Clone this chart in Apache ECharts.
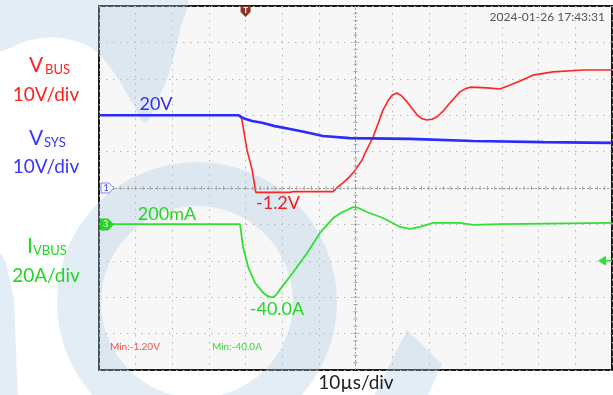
<!DOCTYPE html>
<html>
<head>
<meta charset="utf-8">
<script src="https://cdn.jsdelivr.net/npm/echarts/dist/echarts.min.js"></script>
<style>
  html, body { margin: 0; padding: 0; background: #ffffff; }
  #chart { width: 613px; height: 395px; }
</style>
</head>
<body>
<div id="chart"></div>
<script>
// time in microseconds (10 µs/div, 14 divisions), VBUS/VSYS in volts, IVBUS in amps
const vbus = [
  [0, 20], [38.5, 20], [39.0, 18.7], [40.4, 10.4], [41.8, 4.9], [42.8, -1.2],
  [52, -1.2], [53, -1.0], [63.9, -1.0], [65.2, 0.3], [66.6, 1.4], [68.3, 3.0], [69.9, 4.9], [71.8, 7.7],
  [72.6, 9.6], [74.8, 14.0], [76.2, 17.8], [77.5, 21.4], [79.0, 24.2], [80.0, 25.5], [81.3, 26.1],
  [82.6, 25.3], [84.1, 23.6], [85.5, 21.8], [86.8, 20.1], [88.2, 19.0], [89.5, 18.7], [90.9, 18.9],
  [92.2, 19.5], [94.0, 21.2], [95.8, 23.4], [98.5, 26.4], [100.0, 27.3],
  [101.3, 27.7], [105.9, 27.5], [109.4, 27.2], [112.2, 28.3], [114.9, 29.4],
  [118.4, 31.0], [123.9, 31.9], [132.1, 32.4], [140, 32.4]
];
const vsys = [
  [0, 20], [37.9, 20], [39.8, 19.0], [41.8, 18.4], [44.5, 17.9], [48.0, 17.0],
  [52.1, 16.2], [56.2, 15.4], [61.1, 14.3], [68.5, 13.7], [84.9, 13.5],
  [102.1, 12.9], [121.2, 12.6], [140, 12.4]
];
const ivbus = [
  [0, 0.2], [38.5, 0.2], [39.3, -12.4], [40.7, -23.3], [42.6, -32.2], [44.8, -37.6],
  [45.8, -39.1], [46.7, -39.8], [47.5, -40.0], [48.4, -38.6], [49.3, -36.0], [52.9, -26.6],
  [56.8, -15.7], [60.3, -4.7], [63.9, 3.5], [66.0, 6.3], [67.7, 7.9], [69.0, 9.2], [69.9, 9.6],
  [71.3, 8.6], [73.1, 6.8], [77.5, 3.5], [80.0, 0.9], [82.2, -1.4], [84.9, -2.5], [87.6, -1.4],
  [91.2, 0.8], [98.5, 0.8], [102.1, -0.3], [109.4, 0.2], [140, 0.8]
];
const triggerTime = 40;      // µs
const triggerLevel = -20;    // A
const labelsLeft = ['V', 'BUS', '10V/div', 'V', 'SYS', '10V/div', 'I', 'VBUS', '20A/div'];
const annotations = ['20V', '-1.2V', '200mA', '-40.0A', 'Min:-1.20V', 'Min:-40.0A'];
const timestamp = '2024-01-26 17:43:31';
const timeScale = '10µs/div';

const FONT = 'Lato, "Open Sans", sans-serif';
const RED = '#ff2424', BLUE = '#2b2bff', GREEN = '#30e030';

const chart = echarts.init(document.getElementById('chart'), null, { renderer: 'canvas' });

const dotted = { show: true, lineStyle: { color: '#b4b4b4', width: 1, type: [1.5, 5.5] } };

chart.setOption({
  animation: false,
  backgroundColor: '#ffffff',
  grid: {
    left: 99, top: 6, right: 1, bottom: 25,
    show: true, backgroundColor: '#f7f7f7', borderColor: '#1c1c1c', borderWidth: 2
  },
  xAxis: {
    type: 'value', min: 0, max: 140, interval: 10,
    axisLine: { show: false }, axisTick: { show: false }, axisLabel: { show: false },
    splitLine: dotted
  },
  yAxis: [
    { type: 'value', min: -50, max: 50, interval: 10,
      axisLine: { show: false }, axisTick: { show: false }, axisLabel: { show: false },
      splitLine: dotted },
    { type: 'value', min: -80, max: 120, interval: 20, show: false, splitLine: { show: false } }
  ],
  series: [
    { type: 'line', data: [], z: 1, silent: true,
      markLine: { silent: true, symbol: 'none', label: { show: false },
        lineStyle: { color: '#9a9a9a', width: 1, type: [2, 2] },
        data: [{ xAxis: 70 }, { yAxis: 0 }] } },
    { name: 'VBUS', type: 'line', data: vbus, showSymbol: false, z: 3,
      lineStyle: { color: RED, width: 1.6 }, itemStyle: { color: RED } },
    { name: 'VSYS', type: 'line', data: vsys, showSymbol: false, z: 4,
      lineStyle: { color: BLUE, width: 2.6 }, itemStyle: { color: BLUE } },
    { name: 'IVBUS', type: 'line', yAxisIndex: 1, data: ivbus, showSymbol: false, z: 3,
      lineStyle: { color: GREEN, width: 1.8 }, itemStyle: { color: GREEN } }
  ]
});

const px = (t, v, yi) => chart.convertToPixel({ xAxisIndex: 0, yAxisIndex: yi }, [t, v]);
const xT = px(triggerTime, 0, 0)[0];
const xC = px(70, 0, 0)[0];
const y1 = px(0, 0, 0)[1];
const y3 = px(0, 0, 1)[1];
const yL = px(0, triggerLevel, 1)[1];
const x0 = px(0, 0, 0)[0], x1 = px(140, 0, 0)[0];
const yTop = px(0, 50, 0)[1], yBot = px(0, -50, 0)[1];

const WM = 'rgba(165,198,228,0.32)';
const txt = (s, x, y, size, color, align) => ({
  type: 'text', z: 20, x: x, y: y,
  style: { text: s, fill: color, font: size + 'px ' + FONT, align: align || 'center', verticalAlign: 'middle' }
});

const g = [
  // watermark
  { type: 'ring', z: 1, silent: true, shape: { cx: 197, cy: 302, r: 140, r0: 96 }, style: { fill: WM } },
  { type: 'polygon', z: 1, silent: true,
    shape: { smooth: 0.35, points: [[-5, -5], [185, -5], [180, 30], [170, 70], [158, 100], [145, 123],
      [133, 104], [120, 82], [106, 62], [88, 46], [60, 38], [30, 40], [-5, 50]] },
    style: { fill: WM } },
  { type: 'polygon', z: 1, silent: true,
    shape: { points: [[-5, 244], [6, 262], [14, 300], [18, 400], [-5, 400]] }, style: { fill: WM } },
  { type: 'polygon', z: 1, silent: true,
    shape: { points: [[407, 330], [442, 364], [426, 400], [372, 400]] }, style: { fill: WM } }
];
// small ticks along the centre cross (5 per division)
const stepX = (x1 - x0) / 70, stepY = (yBot - yTop) / 50;
for (let i = 1; i < 70; i++) {
  const x = x0 + i * stepX;
  g.push({ type: 'line', z: 2, silent: true, shape: { x1: x, y1: y1 - 2, x2: x, y2: y1 + 2 },
    style: { stroke: '#a8a8a8', lineWidth: 1 } });
}
for (let i = 1; i < 50; i++) {
  const y = yTop + i * stepY;
  g.push({ type: 'line', z: 2, silent: true, shape: { x1: xC - 2, y1: y, x2: xC + 2, y2: y },
    style: { stroke: '#a8a8a8', lineWidth: 1 } });
}
g.push(
  // trigger marker
  { type: 'polygon', z: 20, shape: { points: [[xT - 5, 6], [xT + 5, 6], [xT + 5, 12], [xT, 17], [xT - 5, 12]] },
    style: { fill: '#8b3526' } },
  { type: 'text', z: 21, x: xT, y: 10.5,
    style: { text: 'T', fill: '#ffffff', font: 'bold 8px ' + FONT, align: 'center', verticalAlign: 'middle' } },
  // channel 1 marker
  { type: 'polygon', z: 20, shape: { points: [[101, y1 - 5], [109, y1 - 5], [114, y1], [109, y1 + 5], [101, y1 + 5]] },
    style: { fill: '#f2f2ff', stroke: '#8888ff', lineWidth: 1 } },
  txt('1', 106, y1, 9, '#4a4ae0'),
  // channel 3 marker
  { type: 'polygon', z: 20, shape: { points: [[100, y3 - 6], [108, y3 - 6], [114, y3], [108, y3 + 6], [100, y3 + 6]] },
    style: { fill: '#22d622' } },
  txt('3', 105.5, y3, 9, '#ffffff'),
  // trigger level arrow
  { type: 'polygon', z: 20, shape: { points: [[598, yL], [606, yL - 5], [606, yL + 5]] }, style: { fill: GREEN } },
  { type: 'line', z: 20, shape: { x1: 604, y1: yL, x2: 612, y2: yL }, style: { stroke: GREEN, lineWidth: 1.5 } },
  // left labels
  txt(labelsLeft[0], 36, 65, 21, '#ff1f1f'),
  txt(labelsLeft[1], 45, 70, 13, '#ff1f1f', 'left'),
  txt(labelsLeft[2], 46, 95, 19, '#ff1f1f'),
  txt(labelsLeft[3], 36, 138, 21, '#3636ff'),
  txt(labelsLeft[4], 44, 143, 13, '#3636ff', 'left'),
  txt(labelsLeft[5], 46, 167, 19, '#3636ff'),
  txt(labelsLeft[6], 30, 246, 21, '#24d624'),
  txt(labelsLeft[7], 33, 251, 13, '#24d624', 'left'),
  txt(labelsLeft[8], 46, 276, 19, '#24d624'),
  // trace annotations
  txt(annotations[0], 156, 104, 18, '#3030ee'),
  txt(annotations[1], 278, 203, 18, '#ee2020'),
  txt(annotations[2], 167, 214, 18, '#24d624'),
  txt(annotations[3], 277, 309, 18, '#24d624'),
  txt(annotations[4], 110, 347, 10, '#ff4a4a', 'left'),
  txt(annotations[5], 212, 347, 10, '#3ad83a', 'left'),
  txt(timestamp, 605, 17, 12, '#555555', 'right'),
  txt(timeScale, 356, 383, 19, '#222222')
);

chart.setOption({ graphic: g });
</script>
</body>
</html>
